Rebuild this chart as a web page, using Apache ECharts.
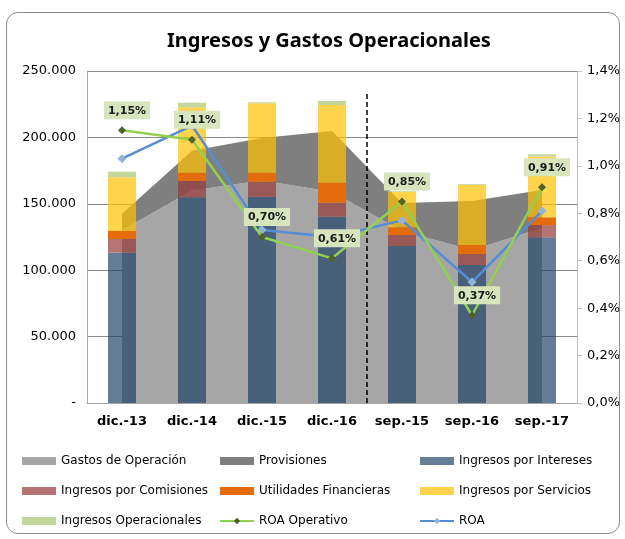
<!DOCTYPE html>
<html>
<head>
<meta charset="utf-8">
<script src="https://cdn.jsdelivr.net/npm/echarts@6/dist/echarts.min.js"></script>
<style>
  html, body { margin: 0; padding: 0; background: #fff; }
  #chart { position: absolute; left: 0; top: 0; width: 625px; height: 539px; }
  #frame {
    position: absolute; left: 6px; top: 12px; width: 612px; height: 520px;
    border: 1.5px solid #8c8c8c; border-radius: 12px; pointer-events: none;
  }
</style>
</head>
<body>
<div id="chart"></div>
<div id="frame"></div>
<script>
const categories = ["dic.-13", "dic.-14", "dic.-15", "dic.-16", "sep.-15", "sep.-16", "sep.-17"]

// areas (stacked)
const gastosOperacion = [130000, 160000, 167500, 159000, 129500, 115200, 131800]
const provisiones = [12500, 30000, 32000, 45800, 21100, 36900, 28600]

// bars (stacked)
const ingresosIntereses = [113200, 154900, 155300, 140300, 118200, 103900, 124800]
const ingresosComisiones = [10300, 12300, 11300, 10500, 8300, 8300, 9200]
const utilidadesFinancieras = [6000, 6200, 6800, 15100, 5800, 6800, 5800]
const ingresosServicios = [40500, 49300, 52300, 58500, 26800, 45200, 45700]
const ingresosOperacionales = [4200, 3400, 800, 3000, 500, 600, 1800]

// ratios, %
const roaOperativo = [1.15, 1.11, 0.70, 0.61, 0.85, 0.37, 0.91]
const roa = [1.03, 1.17, 0.73, 0.70, 0.77, 0.51, 0.81]

// dashed divider between dic.-16 and sep.-15
const dividerAt = 4
const dividerTop = 233000

const chart = echarts.init(document.getElementById("chart"))

const fmtMiles = (v) => (v === 0 ? "-" : String(v).replace(/\B(?=(\d{3})+(?!\d))/g, "."))
const fmtPct = (v, d) => v.toFixed(d).replace(".", ",") + "%"

const barSeries = (name, data, color, opacity) => ({
  name,
  type: "bar",
  stack: "ingresos",
  barWidth: 28,
  z: 3,
  itemStyle: { color, opacity },
  data,
})

const areaSeries = (name, data, color) => ({
  name,
  type: "line",
  stack: "gastos",
  symbol: "none",
  z: 1,
  lineStyle: { width: 0 },
  itemStyle: { color },
  areaStyle: { color, opacity: 1 },
  data,
})

const lineNames = ["ROA Operativo", "ROA"]
const legendText = { fontFamily: "DejaVu Sans", fontSize: 12, color: "#000" }
const legendCol = (left, names) => ({
  orient: "vertical",
  left,
  top: 450,
  itemWidth: 34,
  itemHeight: 8,
  itemGap: 18,
  textStyle: legendText,
  data: names.map((name) => (lineNames.includes(name) ? { name } : { name, icon: "rect" })),
})

const option = {
  animation: false,
  title: {
    text: "Ingresos y Gastos Operacionales",
    left: 162,
    top: 26,
    textStyle: { fontFamily: "Noto Sans", fontWeight: "bold", fontSize: 20, color: "#000" },
  },
  legend: [
    legendCol(17, ["Gastos de Operación", "Ingresos por Comisiones", "Ingresos Operacionales"]),
    legendCol(214, ["Provisiones", "Utilidades Financieras", "ROA Operativo"]),
    legendCol(414, ["Ingresos por Intereses", "Ingresos por Servicios", "ROA"]),
  ],
  grid: { left: 87, right: 48, top: 71, bottom: 136 },
  xAxis: [
    {
      type: "category",
      data: categories,
      axisTick: { show: false },
      axisLine: { lineStyle: { color: "#a6a6a6", width: 1 } },
      axisLabel: {
        interval: 0,
        fontFamily: "DejaVu Sans",
        fontWeight: "bold",
        fontSize: 13,
        color: "#000",
        margin: 12,
      },
    },
    { type: "value", min: 0, max: categories.length, show: false },
  ],
  yAxis: [
    {
      type: "value",
      min: 0,
      max: 250000,
      interval: 50000,
      axisLine: { show: true, lineStyle: { color: "#a6a6a6" } },
      axisTick: { show: false },
      axisLabel: { formatter: fmtMiles, fontFamily: "DejaVu Sans", fontSize: 13, color: "#000", margin: 11 },
      splitLine: { lineStyle: { color: "#8a8a8a", width: 1 } },
    },
    {
      type: "value",
      min: 0,
      max: 1.4,
      interval: 0.2,
      axisLine: { show: true, lineStyle: { color: "#bfbfbf" } },
      axisTick: { show: true, length: 5, lineStyle: { color: "#bfbfbf" } },
      axisLabel: { formatter: (v) => fmtPct(v, 1), fontFamily: "DejaVu Sans", fontSize: 13, color: "#000", margin: 10 },
      splitLine: { show: false },
    },
  ],
  series: [
    areaSeries("Gastos de Operación", gastosOperacion, "#a6a6a6"),
    areaSeries("Provisiones", provisiones, "#7f7f7f"),
    barSeries("Ingresos por Intereses", ingresosIntereses, "#1b3d66", 0.67),
    barSeries("Ingresos por Comisiones", ingresosComisiones, "#953735", 0.7),
    barSeries("Utilidades Financieras", utilidadesFinancieras, "#e46c0a", 1),
    barSeries("Ingresos por Servicios", ingresosServicios, "#ffc000", 0.7),
    barSeries("Ingresos Operacionales", ingresosOperacionales, "#c3d69b", 1),
    {
      name: "divisor",
      type: "line",
      xAxisIndex: 1,
      yAxisIndex: 0,
      data: [],
      z: 4,
      markLine: {
        silent: true,
        symbol: ["none", "none"],
        label: { show: false },
        lineStyle: { color: "#000", type: [5, 3], width: 1.5 },
        data: [[{ coord: [dividerAt, 0] }, { coord: [dividerAt, dividerTop] }]],
      },
    },
    {
      name: "ROA Operativo",
      type: "line",
      yAxisIndex: 1,
      z: 5,
      symbol: "diamond",
      symbolSize: 8,
      lineStyle: { color: "#92d050", width: 2.5 },
      itemStyle: { color: "#4f6228" },
      label: {
        show: true,
        position: "top",
        distance: 7,
        offset: [5, 0],
        formatter: (p) => fmtPct(p.value, 2),
        fontFamily: "DejaVu Sans",
        fontWeight: "bold",
        fontSize: 11,
        color: "#1a1a1a",
        backgroundColor: "#d7e4bd",
        padding: [4, 4, 3, 4],
      },
      data: roaOperativo,
    },
    {
      name: "ROA",
      type: "line",
      yAxisIndex: 1,
      z: 4,
      symbol: "diamond",
      symbolSize: 9,
      lineStyle: { color: "#558ed5", width: 2.5 },
      itemStyle: { color: "#95b3d7" },
      data: roa,
    },
  ],
}

chart.setOption(option)
</script>
</body>
</html>
